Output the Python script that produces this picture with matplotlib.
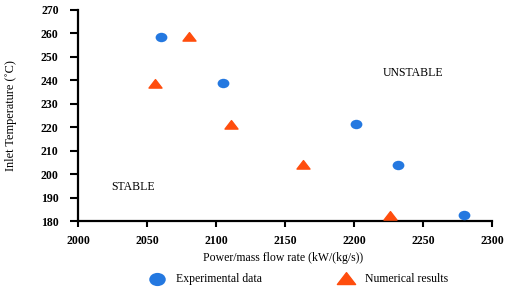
import numpy as np
import matplotlib
matplotlib.use('Agg')
import matplotlib.pyplot as plt
from matplotlib.path import Path

# data
exp_x = [2060, 2105, 2201, 2232, 2280]
exp_y = [258.5, 239, 221.5, 204, 182.5]
num_x = [2080, 2056, 2111, 2163, 2226]
num_y = [258.5, 238.5, 221, 204, 182]

xticks = [2000, 2050, 2100, 2150, 2200, 2250, 2300]
yticks = [180, 190, 200, 210, 220, 230, 240, 250, 260, 270]

blue = '#2478e0'
orange = '#ff4d0d'

plt.rcParams['font.family'] = ['Liberation Serif', 'DejaVu Serif']

# slightly flattened markers, as in the original
circ = Path.unit_circle()
ellipse = Path(circ.vertices * np.array([1.0, 0.8]), circ.codes)
tri = Path([(-1, -0.55), (1, -0.55), (0, 0.75), (-1, -0.55)],
           [Path.MOVETO, Path.LINETO, Path.LINETO, Path.CLOSEPOLY])

fig = plt.figure(figsize=(5.11, 2.92), dpi=100)
ax = fig.add_axes([0.153, 0.243, 0.81, 0.723])

ax.scatter(exp_x, exp_y, marker=ellipse, s=72, color=blue, linewidths=0,
           label='Experimental data', zorder=3)
ax.scatter(num_x, num_y, marker=tri, s=88, color=orange, edgecolors=orange,
           linewidths=1, label='Numerical results', zorder=3)

ax.set_xlim(2000, 2300)
ax.set_ylim(180, 270)
ax.set_xticks(xticks)
ax.set_yticks(yticks)
for lab in ax.get_xticklabels() + ax.get_yticklabels():
    lab.set_fontweight('bold')
    lab.set_fontsize(8.5)
ax.tick_params(axis='x', direction='out', length=4, width=1.5, pad=6)
ax.tick_params(axis='y', direction='out', length=6, width=1.5, pad=8)

for s in ['top', 'right']:
    ax.spines[s].set_visible(False)
for s in ['left', 'bottom']:
    ax.spines[s].set_linewidth(1.6)

ax.set_xlabel('Power/mass flow rate (kW/(kg/s))', fontsize=8.5)
ax.set_ylabel('Inlet Temperature (˚C)', fontsize=8.8)
ax.xaxis.set_label_coords(0.495, -0.145)
ax.yaxis.set_label_coords(-0.147, 0.5)

ax.text(2243, 243, 'UNSTABLE', fontsize=8.5, ha='center', va='center')
ax.text(2040, 194.5, 'STABLE', fontsize=8.5, ha='center', va='center')

fig.legend(loc='center', bbox_to_anchor=(0.581, 0.045), ncol=2,
           frameon=False, fontsize=8.5, markerscale=1.4, columnspacing=6.1,
           handletextpad=0.6, borderpad=0)

fig.savefig('out.png', dpi=100)
